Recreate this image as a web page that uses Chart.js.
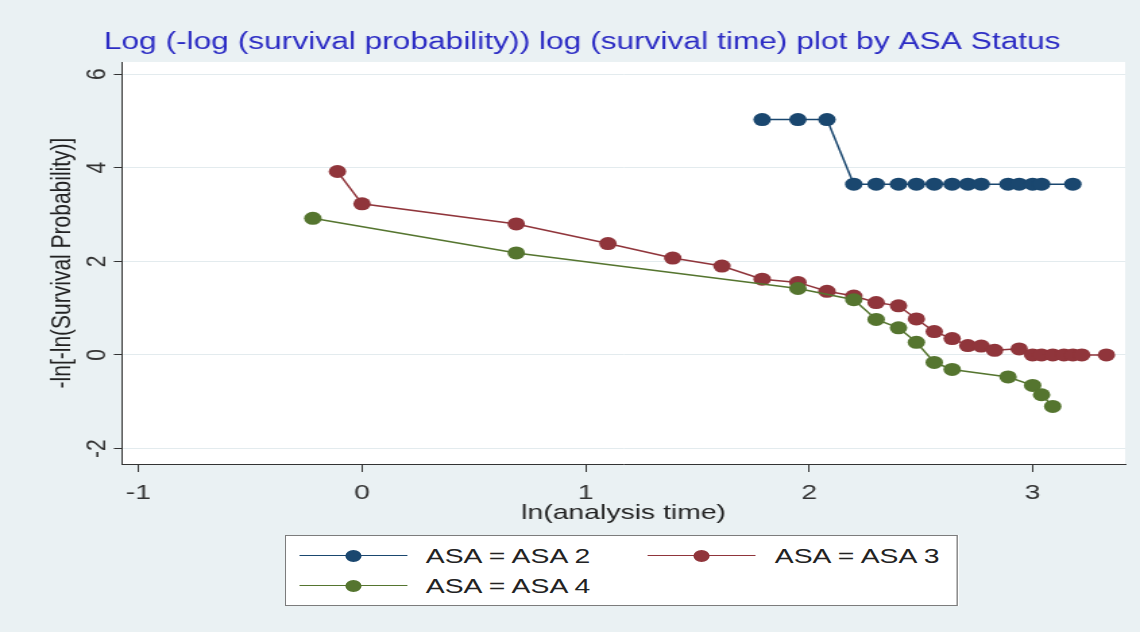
<!DOCTYPE html>
<html>
<head>
<meta charset="utf-8">
<title>Log-log survival plot by ASA status</title>
<script src="https://cdn.jsdelivr.net/npm/chart.js@4.4.0/dist/chart.umd.min.js"></script>
<style>
  html, body { margin: 0; padding: 0; background: #eaf1f3; overflow: hidden; }
  /* the graph is laid out narrow and widened as a whole */
  #stage { position: absolute; left: 0; top: 0; width: 845px; height: 632px;
           transform: scaleX(1.3491); transform-origin: 0 0; }
  #plot { position: absolute; left: 0; top: 0; }
  #legend { position: absolute; left: 211px; top: 535px; width: 499px; height: 71px;
            box-sizing: border-box; background: #fff; border: 1.5px solid #7c7c7c;
            font: 21px "Liberation Sans", Arial, sans-serif; color: #222; }
  .key { position: absolute; width: 80px; height: 12px; }
  .key .ln { position: absolute; left: 0; right: 0; top: 5px; height: 1.5px; }
  .key .dot { position: absolute; left: 34px; top: 0; width: 12px; height: 12px; border-radius: 50%; }
  .lbl { position: absolute; height: 24px; line-height: 24px; white-space: nowrap; }
</style>
</head>
<body>
<div id="stage">
  <canvas id="plot" width="845" height="632"></canvas>
  <div id="legend"></div>
</div>
<script>
const seriesNames = ['ASA = ASA 2', 'ASA = ASA 3', 'ASA = ASA 4'];
const seriesColors = ['#1a476f', '#90353b', '#55752f'];

const xTicks = [-1, 0, 1, 2, 3];
const yTicks = [-2, 0, 2, 4, 6];

// ln(analysis time) / -ln[-ln(S)] per group
const asa2X = [1.79, 1.95, 2.08, 2.20, 2.30, 2.40, 2.48, 2.56, 2.64, 2.71, 2.77, 2.89, 2.94, 3.00, 3.04, 3.18];
const asa2Y = [5.03, 5.03, 5.03, 3.65, 3.65, 3.65, 3.65, 3.65, 3.65, 3.65, 3.65, 3.65, 3.65, 3.65, 3.65, 3.65];

const asa3X = [-0.11, 0.00, 0.69, 1.10, 1.39, 1.61, 1.79, 1.95, 2.08, 2.20, 2.30, 2.40, 2.48,
               2.56, 2.64, 2.71, 2.77, 2.83, 2.94, 3.00, 3.04, 3.09, 3.14, 3.18, 3.22, 3.33];
const asa3Y = [3.92, 3.23, 2.80, 2.38, 2.07, 1.90, 1.62, 1.55, 1.36, 1.26, 1.12, 1.05, 0.77,
               0.50, 0.35, 0.20, 0.19, 0.10, 0.13, 0.00, 0.00, 0.00, 0.00, 0.00, 0.00, 0.00];

const asa4X = [-0.22, 0.69, 1.95, 2.20, 2.30, 2.40, 2.48, 2.56, 2.64, 2.89, 3.00, 3.04, 3.09];
const asa4Y = [2.92, 2.18, 1.42, 1.18, 0.76, 0.58, 0.27, -0.16, -0.31, -0.47, -0.65, -0.85, -1.10];

const FONT = 'Liberation Sans, Arial, sans-serif';

function pairs(xs, ys) {
  return xs.map((x, i) => ({ x: x, y: ys[i] }));
}

const groups = [pairs(asa2X, asa2Y), pairs(asa3X, asa3Y), pairs(asa4X, asa4Y)];

const datasets = groups.map((pts, i) => ({
  label: seriesNames[i],
  data: pts,
  showLine: true,
  tension: 0,
  borderColor: seriesColors[i],
  borderWidth: 1.5,
  pointRadius: 6.5,
  pointBackgroundColor: seriesColors[i],
  pointBorderColor: seriesColors[i],
  pointBorderWidth: 0,
  order: groups.length - 1 - i   // later groups drawn on top
}));

// white plot region behind the data
const plotRegion = {
  id: 'plotRegion',
  beforeDraw(chart) {
    const a = chart.chartArea;
    const ctx = chart.ctx;
    ctx.save();
    ctx.fillStyle = '#ffffff';
    ctx.fillRect(a.left, a.top, a.right - a.left, a.bottom - a.top);
    ctx.restore();
  }
};

new Chart(document.getElementById('plot'), {
  type: 'scatter',
  data: { datasets: datasets },
  plugins: [plotRegion],
  options: {
    responsive: false,
    animation: false,
    events: [],
    layout: { padding: { left: 29, right: 11, top: 0, bottom: 106.4 } },
    plugins: {
      legend: { display: false },
      tooltip: { enabled: false },
      title: {
        display: true,
        text: 'Log (-log (survival probability)) log (survival time) plot by ASA Status',
        color: '#2c2cc4',
        font: { family: FONT, size: 23.5, weight: 'normal' },
        padding: { top: 28.4, bottom: 5.4 }
      }
    },
    scales: {
      x: {
        type: 'linear',
        min: -1.074,
        max: 3.414,
        afterBuildTicks: (s) => { s.ticks = xTicks.map(v => ({ value: v })); },
        afterFit: (s) => { s.height = 61.6; s.paddingLeft = 0; s.paddingRight = 0; },
        border: { color: '#333333', width: 1 },
        grid: { drawOnChartArea: false, drawTicks: true, tickLength: 8, tickColor: '#333333' },
        ticks: { color: '#333333', font: { family: FONT, size: 21 }, padding: 9, maxRotation: 0 },
        title: {
          display: true,
          text: 'ln(analysis time)',
          color: '#222222',
          font: { family: FONT, size: 21 },
          padding: { top: 0, bottom: 0 }
        }
      },
      y: {
        type: 'linear',
        min: -2.33,
        max: 6.26,
        afterBuildTicks: (s) => { s.ticks = yTicks.map(v => ({ value: v })); },
        afterFit: (s) => { s.width = 61.4; s.paddingTop = 0; s.paddingBottom = 0; },
        border: { color: '#333333', width: 1 },
        grid: { color: '#e3ebee', lineWidth: 1, tickColor: '#333333', tickLength: 6 },
        ticks: {
          color: '#333333',
          font: { family: FONT, size: 21 },
          minRotation: 90,
          maxRotation: 90,
          crossAlign: 'center',
          padding: 3
        },
        title: {
          display: true,
          text: '-ln[-ln(Survival Probability)]',
          color: '#222222',
          font: { family: FONT, size: 21 },
          padding: { top: 4.4, bottom: 0 }
        }
      }
    }
  }
});

// legend: two columns, line with a marker then the label
const legendSlots = [
  { x: 9.6, y: 21 },
  { x: 268.3, y: 21 },
  { x: 9.6, y: 51 }
];
const legend = document.getElementById('legend');
seriesNames.forEach((name, i) => {
  const slot = legendSlots[i];
  const key = document.createElement('div');
  key.className = 'key';
  key.style.left = slot.x + 'px';
  key.style.top = (slot.y - 7.5) + 'px';
  key.innerHTML = '<div class="ln" style="background:' + seriesColors[i] + '"></div>' +
                  '<div class="dot" style="background:' + seriesColors[i] + '"></div>';
  legend.appendChild(key);
  const lbl = document.createElement('div');
  lbl.className = 'lbl';
  lbl.style.left = (slot.x + 94) + 'px';
  lbl.style.top = (slot.y - 13.5) + 'px';
  lbl.textContent = name;
  legend.appendChild(lbl);
});
</script>
</body>
</html>
